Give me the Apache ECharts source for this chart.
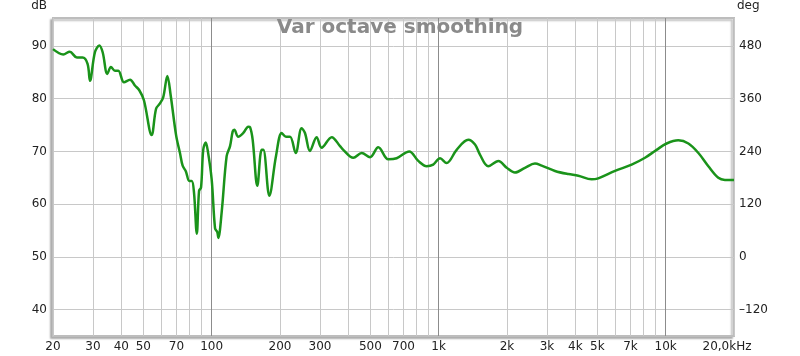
<!DOCTYPE html>
<html>
<head>
<meta charset="utf-8">
<script src="https://cdn.jsdelivr.net/npm/echarts@6/dist/echarts.min.js"></script>
<style>
body { margin: 0; padding: 0; background: #fff; }
#main { width: 800px; height: 356px; }
</style>
</head>
<body>
<div id="main"></div>
<script>
const freq = [20, 22.2, 23.7, 25.5, 27.0, 28.4, 29.1, 30.6, 32.0, 33.1, 34.7, 36.0, 37.5, 38.8, 41.1, 43.7, 45.9, 48.0, 50.3, 54.4,
  56.9, 59.2, 61.2, 63.8, 66.0, 69.7, 72.5, 74.5, 77, 79.7, 81.7, 83.6, 86.0, 88.0, 89.8, 91.8, 94.1, 96.0, 100, 103.5,
  105.9, 107, 110.7, 116.4, 120.5, 123.8, 125.8, 130.9, 137.8, 145, 147.6, 151.6, 158.9, 166, 168.9, 179.5, 192, 203.5, 212.5, 221.5,
  234.5, 249, 257.6, 271, 290, 305, 338, 367.6, 380, 420.6, 458, 498.6, 542, 600, 653, 742, 813, 885, 946, 1014,
  1084, 1200, 1350, 1446, 1520, 1654, 1832, 1994, 2168, 2400, 2656, 2844, 3254, 3724, 4122, 4720, 5048, 5984, 7080, 8110,
  9120, 10100, 11370, 12590, 13940, 15420, 17060, 18250, 20000]
const spl = [89.4, 88.4, 88.9, 87.8, 87.8, 86.6, 83.4, 88.8, 90.1, 88.8, 84.7, 86.0, 85.3, 85.3, 83.1, 83.6, 82.5, 81.6, 79.7, 73.1,
  78.1, 79.1, 80.3, 84.3, 80.6, 73.1, 69.7, 67.3, 66.2, 64.4, 64.4, 62.2, 54.4, 62.5, 63.2, 70.3, 71.7, 70.3, 64.7, 55.4,
  54.7, 53.6, 58.5, 69.1, 71.0, 73.8, 74.1, 72.8, 73.5, 74.7, 74.6, 72.2, 63.5, 70.3, 70.3, 61.6, 69.1, 73.5, 72.8, 72.8,
  69.7, 74.4, 73.5, 70.1, 72.7, 70.7, 72.7, 71.0, 70.3, 68.8, 69.7, 68.9, 70.8, 68.5, 68.7, 70.0, 68.2, 67.2, 67.5, 68.7,
  67.8, 70.3, 72.2, 71.3, 69.4, 67.2, 68.2, 66.9, 66.0, 66.9, 67.7, 67.3, 66.3, 65.7, 65.4, 64.7, 64.9, 66.3, 67.5, 68.8,
  70.3, 71.5, 72.1, 71.5, 69.7, 67.2, 65.0, 64.6, 64.6]
const gridFreqs = [20, 30, 40, 50, 60, 70, 80, 90, 100, 200, 300, 400, 500, 600, 700, 800, 900, 1000,
  2000, 3000, 4000, 5000, 6000, 7000, 8000, 9000, 10000, 20000]
const labelFreqs = [20, 30, 40, 50, 70, 100, 200, 300, 500, 700, 1000, 2000, 3000, 4000, 5000, 7000, 10000, 20000]
const dbTicks = [40, 50, 60, 70, 80, 90]
const degTicks = [-120, 0, 120, 240, 360, 480]

const lineData = freq.map(function (f, i) { return [f, spl[i]] })
const lineColors = gridFreqs.map(function (f) {
  return (f === 100 || f === 1000 || f === 10000) ? '#8c8c8c' : '#c8c8c8'
})

function fmtFreq (v) {
  const f = Math.round(Math.pow(10, v))
  if (f >= 20000) return '{last|20,0kHz}'
  if (f >= 1000) return (f / 1000) + 'k'
  return '' + f
}

const labelFont = { color: '#222', fontSize: 12, fontFamily: 'DejaVu Sans' }

let myChart = echarts.init(document.getElementById('main'))
myChart.setOption({
  animation: false,
  backgroundColor: '#fff',
  title: {
    text: 'Var octave smoothing',
    left: 'center',
    top: 13,
    textStyle: { color: '#8a8a8a', fontSize: 20, fontWeight: 'bold', fontFamily: 'DejaVu Sans' }
  },
  grid: {
    left: 53,
    right: 66,
    top: 13,
    bottom: 20,
    show: true,
    backgroundColor: '#fff',
    borderColor: '#bdbdbd',
    borderWidth: 2,
    shadowColor: 'rgba(0,0,0,0.25)',
    shadowBlur: 2,
    shadowOffsetX: -2,
    shadowOffsetY: 2
  },
  xAxis: [{
    type: 'log',
    logBase: 10,
    min: 20,
    max: 20000,
    show: false
  }, {
    type: 'value',
    position: 'bottom',
    min: Math.log10(20),
    max: Math.log10(20000),
    axisLine: { show: false },
    axisTick: { show: false, customValues: gridFreqs.map(function (f) { return Math.log10(f) }) },
    axisLabel: {
      customValues: labelFreqs.map(function (f) { return Math.log10(f) }),
      formatter: fmtFreq,
      margin: 5,
      rich: { last: { padding: [0, 14, 0, 0], ...labelFont } },
      ...labelFont
    },
    splitLine: { show: true, lineStyle: { color: lineColors, width: 1 } }
  }],
  yAxis: [{
    type: 'value',
    min: 35,
    max: 95.3,
    name: 'dB',
    nameLocation: 'end',
    nameGap: 6,
    nameTextStyle: { align: 'right', padding: [0, 6, 0, 0], ...labelFont },
    axisLine: { show: false },
    axisTick: { show: false, customValues: dbTicks },
    axisLabel: { customValues: dbTicks, margin: 6, ...labelFont },
    splitLine: { show: true, lineStyle: { color: '#c8c8c8', width: 1 } }
  }, {
    type: 'value',
    position: 'right',
    min: -180,
    max: 543.6,
    name: 'deg',
    nameLocation: 'end',
    nameGap: 6,
    nameTextStyle: { align: 'left', padding: [0, 0, 0, 3], ...labelFont },
    axisLine: { show: false },
    axisTick: { show: false, customValues: degTicks },
    axisLabel: {
      customValues: degTicks,
      margin: 5,
      formatter: function (v) { return v < 0 ? '\u2013' + Math.abs(v) : '' + v },
      ...labelFont
    },
    splitLine: { show: false }
  }],
  series: [{
    type: 'line',
    xAxisIndex: 0,
    yAxisIndex: 0,
    data: lineData,
    showSymbol: false,
    smooth: 0.35,
    lineStyle: { color: '#1a931a', width: 2.5 },
    z: 5
  }]
})
</script>
</body>
</html>
